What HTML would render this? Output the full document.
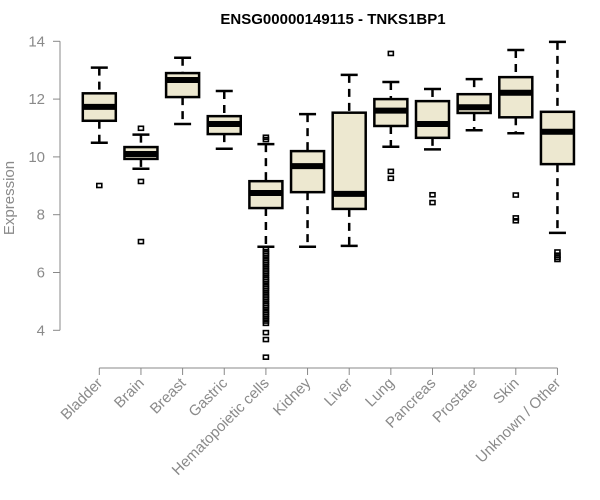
<!DOCTYPE html>
<html><head><meta charset="utf-8"><style>body{margin:0;background:#fff}svg{display:block;font-family:"Liberation Sans",sans-serif}</style></head>
<body>
<svg id="chart" width="600" height="500" viewBox="0 0 600 500">
<text x="333" y="24" text-anchor="middle" font-size="15" font-weight="bold">ENSG00000149115 - TNKS1BP1</text>
<text transform="translate(14,198) rotate(-90)" text-anchor="middle" font-size="15" fill="#8a8a8a">Expression</text>
<g id="axes"></g><g id="boxes"></g>
</svg>
<script>
const categories=["Bladder","Brain","Breast","Gastric","Hematopoietic cells","Kidney","Liver","Lung","Pancreas","Prostate","Skin","Unknown / Other"];
const whiskLow=[10.49,9.59,11.14,10.28,6.89,6.89,6.92,10.35,10.26,10.92,10.82,7.37];
const q1=[11.25,9.93,12.07,10.79,8.23,8.78,8.2,11.07,10.66,11.52,11.37,9.75];
const medians=[11.73,10.1,12.66,11.14,8.75,9.68,8.72,11.6,11.14,11.72,12.22,10.87];
const q3=[12.2,10.34,12.9,11.41,9.16,10.2,11.53,12.0,11.93,12.17,12.76,11.56];
const whiskHigh=[13.09,10.77,13.43,12.28,10.44,11.48,12.84,12.59,12.35,12.69,13.7,13.98];
const outliers=[[9.01],[10.99,9.15,7.07],[],[],
[10.6,10.68,6.8,6.72,6.65,6.58,6.5,6.42,6.35,6.28,6.2,6.12,6.05,5.98,5.9,5.82,5.75,5.68,5.6,5.52,5.45,5.38,5.3,5.22,5.15,5.08,5.0,4.92,4.85,4.78,4.7,4.62,4.55,4.48,4.4,4.32,4.24,3.92,3.68,3.07],
[],[],[13.58,9.5,9.26],[8.69,8.42],[],[8.68,7.89,7.79],[6.71,6.6,6.52,6.45]];
const yTicks=[4,6,8,10,12,14];
const NS="http://www.w3.org/2000/svg";
const y=v=>41.3+(14-v)*28.9;
const x=i=>99.3+i*41.65;
function mk(tag,attrs,parent){const e=document.createElementNS(NS,tag);for(const k in attrs)e.setAttribute(k,attrs[k]);parent.appendChild(e);return e;}
const axes=document.getElementById('axes'),boxes=document.getElementById('boxes');
let el=mk('line',{x1:60,x2:60,y1:y(14),y2:y(4),stroke:'#888'},axes);

yTicks.forEach(t=>{
 let l=mk('line',{x1:53,x2:60,y1:y(t),y2:y(t),stroke:'#888'},axes);
 
 let tx=mk('text',{x:45,y:y(t)+5,'text-anchor':'end','font-size':15,fill:'#8a8a8a'},axes);tx.textContent=t;
 
});
el=mk('line',{x1:x(0),x2:x(11),y1:368,y2:368,stroke:'#888'},axes);

categories.forEach((c,i)=>{
 let l=mk('line',{x1:x(i),x2:x(i),y1:368,y2:375,stroke:'#888'},axes);
 
 let tx=mk('text',{transform:`translate(${x(i)+4},${384}) rotate(-45)`,'text-anchor':'end','font-size':15,fill:'#8a8a8a'},axes);tx.textContent=c;
 
 const g=mk('g',{},boxes);
 
 
 const cx=x(i),hw=16.5;
 mk('line',{x1:cx,x2:cx,y1:y(whiskHigh[i]),y2:y(q3[i]),stroke:'#000','stroke-width':2.5,'stroke-dasharray':'8,6'},g);
 mk('line',{x1:cx,x2:cx,y1:y(q1[i]),y2:y(whiskLow[i]),stroke:'#000','stroke-width':2.5,'stroke-dasharray':'8,6'},g);
 mk('line',{x1:cx-8.5,x2:cx+8.5,y1:y(whiskHigh[i]),y2:y(whiskHigh[i]),stroke:'#000','stroke-width':2.5},g);
 mk('line',{x1:cx-8.5,x2:cx+8.5,y1:y(whiskLow[i]),y2:y(whiskLow[i]),stroke:'#000','stroke-width':2.5},g);
 mk('rect',{x:cx-hw,y:y(q3[i]),width:2*hw,height:y(q1[i])-y(q3[i]),fill:'#ede8d0',stroke:'#000','stroke-width':2.5},g);
 mk('line',{x1:cx-hw,x2:cx+hw,y1:y(medians[i]),y2:y(medians[i]),stroke:'#000','stroke-width':6},g);
 outliers[i].forEach(o=>{mk('rect',{x:cx-2.5,y:y(o)-2,width:5,height:4,fill:'none',stroke:'#000','stroke-width':1.6},g);});
});
</script>
</body></html>
